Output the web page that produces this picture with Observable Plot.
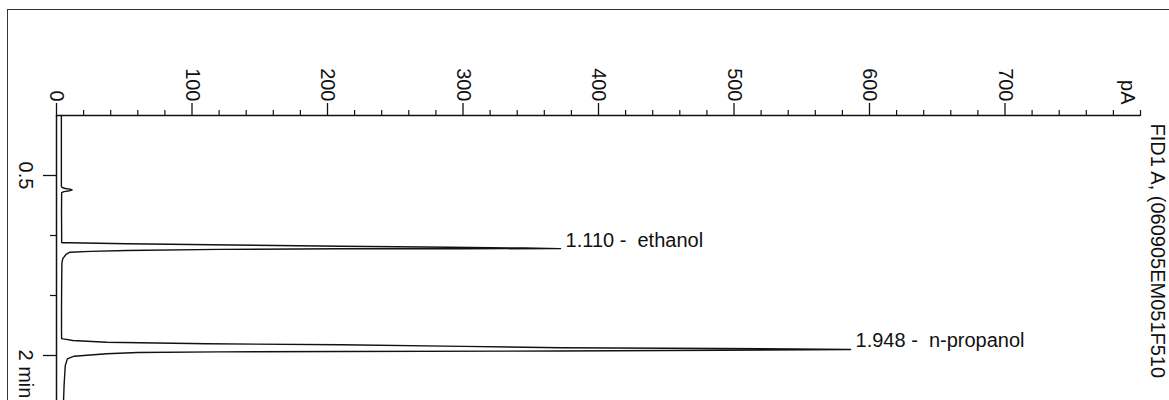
<!DOCTYPE html>
<html>
<head>
<meta charset="utf-8">
<script src="https://cdn.jsdelivr.net/npm/d3@7"></script>
<script src="https://cdn.jsdelivr.net/npm/@observablehq/plot@0.6"></script>
<style>
  html, body { margin: 0; padding: 0; background: #fff; }
  #wrap { position: relative; width: 1169px; height: 400px; overflow: hidden; font-family: "Liberation Sans", Arial, sans-serif; }
  #frame { position: absolute; left: 7px; top: 9px; width: 1170px; height: 400px; border-left: 1.5px solid #333; border-top: 1.5px solid #333; box-sizing: border-box; }
  #chart { position: absolute; left: 0; top: 0; }
  svg text { white-space: pre; }
</style>
</head>
<body>
<div id="wrap"><div id="frame"></div><div id="chart"></div></div>
<script>
// Retention time (min) and detector signal (pA)
const time = [
  0.000, 0.300, 0.590, 0.600, 0.608, 0.614, 0.620, 0.627, 0.634, 0.642,
  0.800, 1.000, 1.055, 1.0600, 1.0608, 1.0692, 1.079, 1.089, 1.098, 1.104,
  1.109, 1.1105, 1.111, 1.116, 1.125, 1.132, 1.139, 1.158, 1.180, 1.194,
  1.230, 1.400, 1.600, 1.800, 1.858, 1.861, 1.875, 1.889, 1.9025, 1.911,
  1.924, 1.936, 1.9417, 1.947, 1.950, 1.956, 1.963, 1.967, 1.970, 1.975,
  1.986, 2.006, 2.028, 2.083, 2.150, 2.250, 2.375
];
const signal = [
  3.6, 3.6, 3.6, 4.2, 6.5, 10, 11.5, 9.5, 5.5, 3.8,
  3.7, 3.8, 3.8, 4.0, 10, 52, 130, 210, 290, 345,
  372, 300, 210, 120, 52, 25, 10, 7, 5.5, 4.6,
  4.0, 3.8, 3.7, 3.7, 3.8, 5, 12, 37, 111, 210,
  300, 372, 490, 565, 586, 490, 372, 210, 120, 60,
  37, 13, 8, 6.5, 6.1, 5.6, 5.2
];

// Integrated peaks
const peakTimes = [1.110, 1.948];
const peakHeights = [372, 586];
const peakNames = ["ethanol", "n-propanol"];

// Axis ticks
const xMajorTicks = [0, 100, 200, 300, 400, 500, 600, 700];
const xMinorTicks = [20, 40, 60, 80, 120, 140, 160, 180, 220, 240, 260, 280, 320, 340, 360, 380,
  420, 440, 460, 480, 520, 540, 560, 580, 620, 640, 660, 680, 720, 740, 760, 780, 800];
const xUnit = "pA";
const yMajorTicks = [0.5, 2];
const yMinorTicks = [1, 1.5];
const yUnit = "min";
const signalTitle = "FID1 A, (060905EM051F510";

const trace = time.map((t, i) => ({t, pA: signal[i]}));
const peaks = peakTimes.map((t, i) => ({t, pA: peakHeights[i], name: peakNames[i]}));

const font = 20;
const chart = Plot.plot({
  width: 1169,
  height: 400,
  marginLeft: 56,
  marginRight: 29,
  marginTop: 115,
  marginBottom: 0,
  style: {fontFamily: '"Liberation Sans", Arial, sans-serif', background: "transparent", color: "#111", overflow: "visible"},
  x: {domain: [0, 800]},
  y: {domain: [0, 2.375], reverse: true},
  marks: [
    Plot.ruleY([0], {strokeWidth: 1.5}),
    Plot.ruleX([0], {strokeWidth: 1.5}),
    Plot.axisX(xMajorTicks, {anchor: "top", tickSize: 13, tickPadding: 1, tickRotate: 90,
      textAnchor: "end", lineAnchor: "middle", fontSize: font, strokeWidth: 1.3, label: null,
      tickFormat: d => String(d)}),
    Plot.axisX(xMinorTicks, {anchor: "top", tickSize: 6, tickFormat: () => "", strokeWidth: 1.2, label: null}),
    Plot.text([800], {x: d => d, frameAnchor: "top", text: () => xUnit, rotate: 90,
      textAnchor: "end", lineAnchor: "middle", dx: -13, dy: -11, fontSize: font}),
    Plot.axisY(yMajorTicks, {anchor: "left", tickSize: 13, tickFormat: () => "", strokeWidth: 1.3, label: null}),
    Plot.axisY(yMinorTicks, {anchor: "left", tickSize: 6, tickFormat: () => "", strokeWidth: 1.2, label: null}),
    Plot.text(yMajorTicks.slice(0, -1), {y: d => d, frameAnchor: "left", text: d => String(d), rotate: 90,
      textAnchor: "middle", lineAnchor: "middle", dx: -31, fontSize: font}),
    Plot.text(yMajorTicks.slice(-1), {y: d => d, frameAnchor: "left", text: d => `${d} ${yUnit}`, rotate: 90,
      textAnchor: "start", lineAnchor: "middle", dx: -31, dy: -6, fontSize: font}),
    Plot.line(trace, {x: "pA", y: "t", stroke: "#111", strokeWidth: 1.4, curve: "linear"}),
    Plot.text(peaks, {x: "pA", y: "t", text: d => `${d.t.toFixed(3)} -  ${d.name}`,
      textAnchor: "start", lineAnchor: "bottom", dx: 5, dy: -2, fontSize: font, fill: "#111"}),
    Plot.text([signalTitle], {frameAnchor: "top-right", text: d => d, rotate: 90,
      textAnchor: "start", lineAnchor: "middle", dx: 17, dy: 8, fontSize: 20, fill: "#111"})
  ]
});
document.getElementById("chart").appendChild(chart);
</script>
</body>
</html>
